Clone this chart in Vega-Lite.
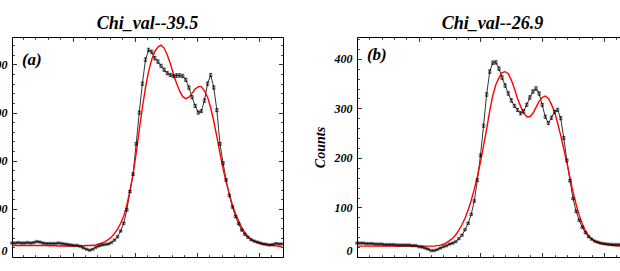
{
  "$schema": "https://vega.github.io/schema/vega-lite/v6.json",
  "padding": {"left": -11, "top": 14, "right": 0, "bottom": 0},
  "spacing": 28,
  "datasets": {
    "left": [
      {"u":0.5,"b":29,"e":1.2,"r":24},{"u":1.5,"b":29,"e":1.2,"r":24},{"u":2.5,"b":30,"e":1.2,"r":24},{"u":3.5,"b":29,"e":1.2,"r":24},
      {"u":4.5,"b":29,"e":1.2,"r":24},{"u":5.5,"b":30,"e":1.2,"r":24},{"u":6.5,"b":29,"e":1.2,"r":24},{"u":7.5,"b":30,"e":1.2,"r":24},
      {"u":8.5,"b":32,"e":1.2,"r":24},{"u":9.5,"b":31,"e":1.2,"r":24},{"u":10.5,"b":29,"e":1.2,"r":24},{"u":11.5,"b":28,"e":1.2,"r":24},
      {"u":12.5,"b":28,"e":1.2,"r":23.5},{"u":13.5,"b":28,"e":1.2,"r":23.5},{"u":14.5,"b":28,"e":1.2,"r":23.5},{"u":15.5,"b":29,"e":1.2,"r":23},
      {"u":16.5,"b":28,"e":1.2,"r":23},{"u":17.5,"b":27,"e":1.2,"r":23},{"u":18.5,"b":26,"e":1.2,"r":23},{"u":19.5,"b":25,"e":1.2,"r":23},
      {"u":20.5,"b":24,"e":1.2,"r":23},{"u":21.5,"b":24,"e":1.2,"r":23},{"u":22.5,"b":22,"e":1.2,"r":23},{"u":23.5,"b":19,"e":1.2,"r":23.5},
      {"u":24.5,"b":16,"e":1.0,"r":24},{"u":25.5,"b":14,"e":1.0,"r":24},{"u":26.5,"b":16,"e":1.0,"r":24.5},{"u":27.5,"b":20,"e":1.2,"r":25},
      {"u":28.5,"b":23,"e":1.2,"r":27},{"u":29.5,"b":25,"e":1.2,"r":29},{"u":30.5,"b":26,"e":1.2,"r":32},{"u":31.5,"b":27,"e":1.2,"r":36},
      {"u":32.5,"b":30,"e":1.2,"r":41},{"u":33.5,"b":35,"e":1.4,"r":49},{"u":34.5,"b":42,"e":1.6,"r":58},{"u":35.5,"b":54,"e":1.6,"r":70},
      {"u":36.5,"b":70,"e":1.8,"r":85},{"u":37.5,"b":98,"e":2.2,"r":108},{"u":38.5,"b":136,"e":2.4,"r":138},{"u":39.5,"b":172,"e":2.8,"r":172},
      {"u":40.5,"b":235,"e":3.0,"r":215},{"u":41.5,"b":300,"e":3.4,"r":264},{"u":42.5,"b":360,"e":3.6,"r":310},{"u":43.5,"b":410,"e":3.8,"r":352},
      {"u":44.5,"b":430,"e":4.0,"r":385},{"u":45.5,"b":426,"e":4.0,"r":410},{"u":46.5,"b":413,"e":3.8,"r":427},{"u":47.5,"b":406,"e":3.8,"r":436},
      {"u":48.5,"b":397,"e":3.8,"r":440},{"u":49.5,"b":389,"e":3.8,"r":434},{"u":50.5,"b":382,"e":3.8,"r":420},{"u":51.5,"b":378,"e":3.8,"r":402},
      {"u":52.5,"b":376,"e":3.8,"r":380},{"u":53.5,"b":377,"e":3.8,"r":361},{"u":54.5,"b":377,"e":3.8,"r":345},{"u":55.5,"b":376,"e":3.8,"r":333},
      {"u":56.5,"b":368,"e":3.8,"r":329},{"u":57.5,"b":352,"e":3.6,"r":332},{"u":58.5,"b":332,"e":3.6,"r":340},{"u":59.5,"b":314,"e":3.4,"r":349},
      {"u":60.5,"b":300,"e":3.4,"r":354},{"u":61.5,"b":303,"e":3.4,"r":354},{"u":62.5,"b":325,"e":3.6,"r":345},{"u":63.5,"b":360,"e":3.8,"r":332},
      {"u":64.5,"b":378,"e":3.8,"r":310},{"u":65.5,"b":352,"e":3.6,"r":282},{"u":66.5,"b":305,"e":3.4,"r":250},{"u":67.5,"b":235,"e":3.0,"r":216},
      {"u":68.5,"b":195,"e":2.8,"r":183},{"u":69.5,"b":160,"e":2.6,"r":155},{"u":70.5,"b":128,"e":2.4,"r":131},{"u":71.5,"b":104,"e":2.2,"r":108},
      {"u":72.5,"b":84,"e":2.0,"r":90},{"u":73.5,"b":69,"e":1.8,"r":75},{"u":74.5,"b":56,"e":1.6,"r":61},{"u":75.5,"b":47,"e":1.6,"r":51},
      {"u":76.5,"b":41,"e":1.4,"r":42},{"u":77.5,"b":36,"e":1.4,"r":37},{"u":78.5,"b":33,"e":1.2,"r":33},{"u":79.5,"b":31,"e":1.2,"r":30},
      {"u":80.5,"b":29,"e":1.2,"r":28},{"u":81.5,"b":27,"e":1.2,"r":27},{"u":82.5,"b":26,"e":1.2,"r":26},{"u":83.5,"b":25,"e":1.2,"r":25},
      {"u":84.5,"b":26,"e":1.2,"r":24},{"u":85.5,"b":28,"e":1.2,"r":23},{"u":86.5,"b":27,"e":1.2,"r":22},{"u":87.5,"b":27,"e":1.2,"r":21}
    ],
    "right": [
      {"u":0,"b":28,"e":1.2,"r":22},{"u":1,"b":28,"e":1.2,"r":22},{"u":2,"b":28,"e":1.2,"r":22},{"u":3,"b":27,"e":1.2,"r":22},
      {"u":4,"b":27,"e":1.2,"r":22},{"u":5,"b":27,"e":1.2,"r":22},{"u":6,"b":26,"e":1.2,"r":22},{"u":7,"b":26,"e":1.2,"r":22},
      {"u":8,"b":26,"e":1.2,"r":22},{"u":9,"b":25,"e":1.2,"r":22},{"u":10,"b":25,"e":1.2,"r":22},{"u":11,"b":25,"e":1.2,"r":22},
      {"u":12,"b":25,"e":1.2,"r":22},{"u":13,"b":24,"e":1.2,"r":22},{"u":14,"b":24,"e":1.2,"r":22},{"u":15,"b":24,"e":1.2,"r":22},
      {"u":16,"b":24,"e":1.2,"r":22},{"u":17,"b":24,"e":1.2,"r":22},{"u":18,"b":23,"e":1.2,"r":22},{"u":19,"b":23,"e":1.2,"r":22},
      {"u":20,"b":21,"e":1.2,"r":22},{"u":21,"b":20,"e":1.2,"r":22},{"u":22,"b":18,"e":1.0,"r":22},{"u":23,"b":16,"e":1.0,"r":22},
      {"u":24,"b":13,"e":1.0,"r":22},{"u":25,"b":13,"e":1.0,"r":22},{"u":26,"b":15,"e":1.0,"r":23},{"u":27,"b":18,"e":1.0,"r":24},
      {"u":28,"b":21,"e":1.2,"r":26},{"u":29,"b":23,"e":1.2,"r":29},{"u":30,"b":26,"e":1.2,"r":33},{"u":31,"b":28,"e":1.2,"r":38},
      {"u":32,"b":31,"e":1.2,"r":45},{"u":33,"b":37,"e":1.4,"r":54},{"u":34,"b":44,"e":1.6,"r":65},{"u":35,"b":55,"e":1.6,"r":78},
      {"u":36,"b":68,"e":1.8,"r":95},{"u":37,"b":86,"e":2.0,"r":114},{"u":38,"b":113,"e":2.2,"r":137},{"u":39,"b":155,"e":2.6,"r":162},
      {"u":40,"b":205,"e":2.8,"r":192},{"u":41,"b":265,"e":3.2,"r":225},{"u":42,"b":328,"e":3.6,"r":258},{"u":43,"b":374,"e":3.8,"r":295},
      {"u":44,"b":392,"e":3.8,"r":326},{"u":45,"b":393,"e":3.8,"r":348},{"u":46,"b":380,"e":3.8,"r":362},{"u":47,"b":362,"e":3.8,"r":372},
      {"u":48,"b":346,"e":3.6,"r":374},{"u":49,"b":330,"e":3.6,"r":370},{"u":50,"b":316,"e":3.6,"r":357},{"u":51,"b":305,"e":3.4,"r":340},
      {"u":52,"b":297,"e":3.4,"r":320},{"u":53,"b":290,"e":3.4,"r":304},{"u":54,"b":294,"e":3.4,"r":291},{"u":55,"b":307,"e":3.4,"r":283},
      {"u":56,"b":322,"e":3.6,"r":283},{"u":57,"b":334,"e":3.6,"r":290},{"u":58,"b":340,"e":3.6,"r":302},{"u":59,"b":330,"e":3.6,"r":314},
      {"u":60,"b":307,"e":3.4,"r":322},{"u":61,"b":283,"e":3.4,"r":325},{"u":62,"b":270,"e":3.2,"r":320},{"u":63,"b":281,"e":3.4,"r":308},
      {"u":64,"b":293,"e":3.4,"r":293},{"u":65,"b":297,"e":3.4,"r":270},{"u":66,"b":280,"e":3.4,"r":245},{"u":67,"b":240,"e":3.0,"r":218},
      {"u":68,"b":195,"e":2.8,"r":190},{"u":69,"b":154,"e":2.6,"r":160},{"u":70,"b":118,"e":2.2,"r":131},{"u":71,"b":92,"e":2.0,"r":106},
      {"u":72,"b":74,"e":1.8,"r":84},{"u":73,"b":60,"e":1.6,"r":67},{"u":74,"b":49,"e":1.6,"r":53},{"u":75,"b":41,"e":1.4,"r":43},
      {"u":76,"b":36,"e":1.4,"r":37},{"u":77,"b":32,"e":1.2,"r":32},{"u":78,"b":30,"e":1.2,"r":29},{"u":79,"b":28,"e":1.2,"r":27},
      {"u":80,"b":27,"e":1.2,"r":26},{"u":81,"b":26,"e":1.2,"r":25},{"u":82,"b":25.5,"e":1.2,"r":24},{"u":83,"b":25,"e":1.2,"r":23},
      {"u":84,"b":25,"e":1.2,"r":22.5},{"u":85,"b":25,"e":1.2,"r":22},{"u":86,"b":25,"e":1.2,"r":22},{"u":87,"b":25,"e":1.2,"r":22}
    ]
  },
  "hconcat": [
    {
      "width": 271,
      "height": 220,
      "title": {"text": "Chi_val--39.5"},
      "data": {"name": "left"},
      "layer": [
        {
          "mark": {"type": "line", "color": "black", "strokeWidth": 0.8},
          "encoding": {
            "x": {"field": "u", "type": "quantitative", "scale": {"domain": [0.5, 87.8], "nice": false, "zero": false},
                  "axis": {"orient": "bottom", "values": [0, 20, 40, 60, 80], "tickSize": -4.5, "labels": false, "domain": true, "title": null}},
            "y": {"field": "b", "type": "quantitative", "scale": {"domain": [0, 457], "nice": false},
                  "axis": {"orient": "left", "values": [0, 100, 200, 300, 400], "tickSize": -4.5, "labelPadding": 9.5, "labelFlush": true, "domain": true, "title": null}}
          }
        },
        {
          "mark": {"type": "line", "color": "#ff0000", "strokeWidth": 1.4},
          "encoding": {
            "x": {"field": "u", "type": "quantitative",
                  "axis": {"orient": "top", "values": [0, 20, 40, 60, 80], "tickSize": -4.5, "labels": false, "domain": true, "title": null}},
            "y": {"field": "r", "type": "quantitative",
                  "axis": {"orient": "right", "values": [0, 100, 200, 300, 400], "tickSize": -4.5, "labels": false, "domain": true, "title": null}}
          }
        },
        {
          "mark": {"type": "point", "shape": "square", "size": 7, "filled": false, "color": "black", "strokeWidth": 0.6},
          "encoding": {
            "x": {"field": "u", "type": "quantitative",
                  "axis": {"orient": "bottom", "values": [4, 8, 12, 16, 24, 28, 32, 36, 44, 48, 52, 56, 64, 68, 72, 76, 84], "tickSize": -2.3, "labels": false, "domain": false, "title": null}},
            "y": {"field": "b", "type": "quantitative",
                  "axis": {"orient": "left", "values": [20, 40, 60, 80, 120, 140, 160, 180, 220, 240, 260, 280, 320, 340, 360, 380, 420, 440], "tickSize": -2.3, "labels": false, "domain": false, "title": null}}
          }
        },
        {
          "mark": {"type": "point", "opacity": 0},
          "encoding": {
            "x": {"field": "u", "type": "quantitative",
                  "axis": {"orient": "top", "values": [4, 8, 12, 16, 24, 28, 32, 36, 44, 48, 52, 56, 64, 68, 72, 76, 84], "tickSize": -2.3, "labels": false, "domain": false, "title": null}},
            "y": {"field": "b", "type": "quantitative",
                  "axis": {"orient": "right", "values": [20, 40, 60, 80, 120, 140, 160, 180, 220, 240, 260, 280, 320, 340, 360, 380, 420, 440], "tickSize": -2.3, "labels": false, "domain": false, "title": null}}
          }
        },
        {
          "mark": {"type": "errorbar", "color": "black", "thickness": 0.7, "ticks": {"size": 3}},
          "encoding": {
            "x": {"field": "u", "type": "quantitative", "axis": null},
            "y": {"field": "b", "type": "quantitative", "axis": null},
            "yError": {"field": "e"}
          }
        },
        {
          "data": {"values": [{"t": "(a)"}]},
          "mark": {"type": "text", "align": "left", "baseline": "middle", "font": "Liberation Serif", "fontStyle": "italic", "fontWeight": "bold", "fontSize": 17, "color": "black"},
          "encoding": {
            "x": {"datum": 3.7, "type": "quantitative", "axis": null},
            "y": {"datum": 410, "type": "quantitative", "axis": null},
            "text": {"field": "t"}
          }
        }
      ],
      "resolve": {"axis": {"x": "independent", "y": "independent"}}
    },
    {
      "width": 271,
      "height": 220,
      "title": {"text": "Chi_val--26.9"},
      "data": {"name": "right"},
      "layer": [
        {
          "mark": {"type": "line", "color": "black", "strokeWidth": 0.8},
          "encoding": {
            "x": {"field": "u", "type": "quantitative", "scale": {"domain": [0, 87.8], "nice": false, "zero": false},
                  "axis": {"orient": "bottom", "values": [0, 20, 40, 60, 80], "tickSize": -4.5, "labels": false, "domain": true, "title": null}},
            "y": {"field": "b", "type": "quantitative", "scale": {"domain": [0, 444], "nice": false},
                  "axis": {"orient": "left", "values": [0, 100, 200, 300, 400], "tickSize": -4.5, "labelPadding": 9.5, "labelFlush": true, "domain": true, "title": "Counts", "titlePadding": 7}}
          }
        },
        {
          "mark": {"type": "line", "color": "#ff0000", "strokeWidth": 1.4},
          "encoding": {
            "x": {"field": "u", "type": "quantitative",
                  "axis": {"orient": "top", "values": [0, 20, 40, 60, 80], "tickSize": -4.5, "labels": false, "domain": true, "title": null}},
            "y": {"field": "r", "type": "quantitative",
                  "axis": {"orient": "right", "values": [0, 100, 200, 300, 400], "tickSize": -4.5, "labels": false, "domain": true, "title": null}}
          }
        },
        {
          "mark": {"type": "point", "shape": "square", "size": 7, "filled": false, "color": "black", "strokeWidth": 0.6},
          "encoding": {
            "x": {"field": "u", "type": "quantitative",
                  "axis": {"orient": "bottom", "values": [4, 8, 12, 16, 24, 28, 32, 36, 44, 48, 52, 56, 64, 68, 72, 76, 84], "tickSize": -2.3, "labels": false, "domain": false, "title": null}},
            "y": {"field": "b", "type": "quantitative",
                  "axis": {"orient": "left", "values": [20, 40, 60, 80, 120, 140, 160, 180, 220, 240, 260, 280, 320, 340, 360, 380, 420, 440], "tickSize": -2.3, "labels": false, "domain": false, "title": null}}
          }
        },
        {
          "mark": {"type": "point", "opacity": 0},
          "encoding": {
            "x": {"field": "u", "type": "quantitative",
                  "axis": {"orient": "top", "values": [4, 8, 12, 16, 24, 28, 32, 36, 44, 48, 52, 56, 64, 68, 72, 76, 84], "tickSize": -2.3, "labels": false, "domain": false, "title": null}},
            "y": {"field": "b", "type": "quantitative",
                  "axis": {"orient": "right", "values": [20, 40, 60, 80, 120, 140, 160, 180, 220, 240, 260, 280, 320, 340, 360, 380, 420, 440], "tickSize": -2.3, "labels": false, "domain": false, "title": null}}
          }
        },
        {
          "mark": {"type": "errorbar", "color": "black", "thickness": 0.7, "ticks": {"size": 3}},
          "encoding": {
            "x": {"field": "u", "type": "quantitative", "axis": null},
            "y": {"field": "b", "type": "quantitative", "axis": null},
            "yError": {"field": "e"}
          }
        },
        {
          "data": {"values": [{"t": "(b)"}]},
          "mark": {"type": "text", "align": "left", "baseline": "middle", "font": "Liberation Serif", "fontStyle": "italic", "fontWeight": "bold", "fontSize": 17, "color": "black"},
          "encoding": {
            "x": {"datum": 3.2, "type": "quantitative", "axis": null},
            "y": {"datum": 407, "type": "quantitative", "axis": null},
            "text": {"field": "t"}
          }
        }
      ],
      "resolve": {"axis": {"x": "independent", "y": "independent"}}
    }
  ],
  "config": {
    "view": {"stroke": null},
    "font": "Liberation Serif",
    "title": {"font": "Liberation Serif", "fontStyle": "italic", "fontWeight": "bold", "fontSize": 18, "color": "black", "offset": 4},
    "axis": {
      "grid": false,
      "labelFont": "Liberation Serif", "labelFontStyle": "italic", "labelFontWeight": "bold", "labelFontSize": 12, "labelColor": "black",
      "tickColor": "black", "tickWidth": 0.8, "domainColor": "black", "domainWidth": 1,
      "titleFont": "Liberation Serif", "titleFontStyle": "italic", "titleFontWeight": "bold", "titleFontSize": 14, "titleColor": "black"
    }
  }
}
